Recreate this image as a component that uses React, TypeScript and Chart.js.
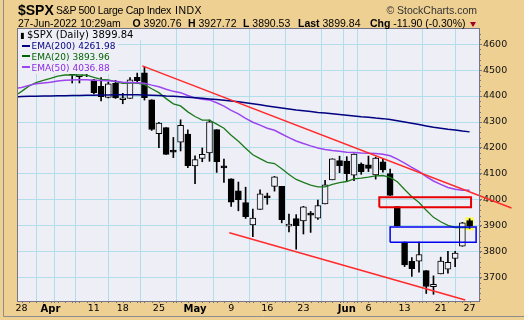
import React, { useEffect, useRef } from "react";
import { Chart, registerables } from "chart.js";

Chart.register(...registerables);

// ---- Data (index 0 = 25-Mar-2022, partly off the left edge) ----
const dates = [
  "03-25", "03-28", "03-29", "03-30", "03-31", "04-01", "04-04", "04-05", "04-06", "04-07", "04-08",
  "04-11", "04-12", "04-13", "04-14", "04-18", "04-19", "04-20", "04-21", "04-22",
  "04-25", "04-26", "04-27", "04-28", "04-29", "05-02", "05-03", "05-04", "05-05", "05-06",
  "05-09", "05-10", "05-11", "05-12", "05-13", "05-16", "05-17", "05-18", "05-19", "05-20",
  "05-23", "05-24", "05-25", "05-26", "05-27", "05-31", "06-01", "06-02", "06-03",
  "06-06", "06-07", "06-08", "06-09", "06-10", "06-13", "06-14", "06-15", "06-16", "06-17",
  "06-21", "06-22", "06-23", "06-24", "06-27",
];
const opens = [
  4522.7, 4541.1, 4602.9, 4624.2, 4599.0, 4540.3, 4548.0, 4572.5, 4494.2, 4474.7, 4494.2,
  4462.6, 4437.6, 4394.3, 4449.1, 4385.6, 4390.6, 4472.3, 4489.2, 4385.8,
  4255.3, 4278.1, 4186.5, 4222.6, 4253.8, 4130.6, 4159.8, 4181.2, 4270.4, 4128.2,
  4081.3, 4035.2, 3990.1, 3904.0, 3963.9, 4013.0, 4052.0, 4052.0, 3899.0, 3927.8,
  3919.4, 3942.9, 3929.6, 3984.6, 4077.4, 4151.1, 4149.8, 4095.4, 4137.6,
  4134.7, 4096.5, 4147.1, 4101.7, 3974.4, 3838.2, 3763.5, 3764.1, 3728.2, 3665.9,
  3715.3, 3733.9, 3774.7, 3821.8, 3920.8,
];
const highs = [
  4546.0, 4575.7, 4637.3, 4627.8, 4603.1, 4548.7, 4583.5, 4593.5, 4503.9, 4521.2, 4520.4,
  4464.4, 4471.0, 4453.9, 4460.5, 4410.3, 4471.0, 4488.3, 4512.9, 4385.8,
  4299.0, 4278.1, 4240.7, 4308.5, 4269.7, 4169.8, 4200.1, 4307.7, 4270.4, 4157.7,
  4081.3, 4068.8, 4049.1, 3964.8, 4038.9, 4026.2, 4090.7, 4052.0, 3946.0, 3943.4,
  3975.5, 3955.7, 3999.3, 4075.1, 4158.5, 4168.3, 4166.5, 4177.5, 4142.7,
  4168.8, 4164.9, 4160.1, 4119.1, 3974.4, 3838.2, 3778.2, 3837.6, 3728.2, 3707.7,
  3779.7, 3801.8, 3802.6, 3913.7, 3927.7,
];
const lows = [
  4501.1, 4517.7, 4581.5, 4581.3, 4530.4, 4507.6, 4539.2, 4514.2, 4450.0, 4450.3, 4474.6,
  4408.4, 4381.3, 4392.7, 4390.8, 4370.3, 4390.6, 4448.8, 4384.5, 4267.6,
  4200.8, 4175.0, 4162.9, 4188.6, 4124.3, 4062.5, 4147.1, 4148.9, 4106.0, 4067.9,
  3975.5, 3958.2, 3928.8, 3858.9, 3963.9, 3983.4, 4033.9, 3911.9, 3876.6, 3810.3,
  3868.9, 3875.1, 3925.0, 3984.6, 4077.4, 4104.9, 4073.9, 4074.4, 4098.7,
  4109.2, 4080.2, 4107.2, 4017.2, 3900.2, 3743.5, 3705.7, 3722.3, 3639.8, 3636.9,
  3715.3, 3717.7, 3743.5, 3821.8, 3890.5,
];
const closes = [
  4543.1, 4575.5, 4631.6, 4602.5, 4530.4, 4545.9, 4582.6, 4525.1, 4481.2, 4500.2, 4488.3,
  4412.5, 4397.5, 4446.6, 4392.6, 4391.7, 4462.2, 4459.5, 4393.7, 4271.8,
  4296.1, 4175.2, 4184.0, 4287.5, 4131.9, 4155.4, 4175.5, 4300.2, 4146.9, 4123.3,
  3991.2, 4001.1, 3935.2, 3930.1, 4023.9, 4008.0, 4088.9, 3923.7, 3900.8, 3901.4,
  3973.8, 3941.5, 3978.7, 4057.8, 4158.2, 4132.2, 4101.2, 4176.8, 4108.5,
  4121.4, 4160.7, 4115.8, 4017.8, 3900.9, 3749.6, 3735.5, 3790.0, 3666.8, 3674.8,
  3764.8, 3759.9, 3795.7, 3911.7, 3899.8,
];
const ema200 = [
  4397, 4398, 4399, 4399, 4400, 4400, 4401, 4401, 4402, 4402, 4403,
  4403, 4404, 4404, 4405, 4405, 4405, 4405, 4404, 4403,
  4402, 4400, 4399, 4397, 4395, 4393, 4391, 4389, 4387, 4384,
  4381, 4378, 4374, 4370, 4366, 4362, 4358, 4354, 4350, 4346,
  4343, 4340, 4337, 4335, 4332, 4329, 4326, 4323, 4320,
  4318, 4315, 4313, 4310, 4305, 4300, 4295, 4290, 4285, 4280,
  4276, 4272, 4269, 4265, 4262,
];
const ema20 = [
  4400, 4418, 4438, 4452, 4460, 4468, 4477, 4481, 4481, 4481, 4480,
  4472, 4464, 4462, 4455, 4449, 4450, 4450, 4444, 4428,
  4413, 4390, 4370, 4362, 4339, 4321, 4307, 4307, 4292, 4276,
  4249, 4226, 4199, 4174, 4159, 4145, 4140, 4120, 4098, 4079,
  4068, 4057, 4050, 4050, 4060, 4067, 4071, 4081, 4084,
  4088, 4093, 4094, 4087, 4070, 4040, 4012, 3990, 3960, 3933,
  3916, 3902, 3894, 3894, 3894,
];
const ema50 = [
  4428, 4433, 4441, 4447, 4450, 4453, 4458, 4461, 4462, 4463, 4463,
  4461, 4460, 4459, 4457, 4453, 4452, 4451, 4449, 4442,
  4436, 4426, 4418, 4413, 4402, 4393, 4388, 4385, 4374, 4361,
  4345, 4331, 4314, 4299, 4288, 4276, 4268, 4254, 4240, 4227,
  4217, 4208, 4200, 4194, 4190, 4187, 4184, 4183, 4181,
  4180, 4179, 4176, 4170, 4157, 4142, 4125, 4110, 4090, 4073,
  4060, 4048, 4041, 4037, 4037,
];

const yTicks = [3700, 3800, 3900, 4000, 4100, 4200, 4300, 4400, 4500, 4600];
const yMinorStep = 20;
const xGridIdx = [1, 5, 6, 11, 15, 20, 25, 30, 35, 40, 45, 46, 49, 54, 59, 63];
const xLabelIdx = [1, 5, 11, 15, 20, 25, 30, 35, 40, 46, 49, 54, 59, 63];
const xLabels = ["28", "Apr", "11", "18", "25", "May", "9", "16", "23", "Jun", "6", "13", "21", "27"];
const monthLabels = ["Apr", "May", "Jun"];

// annotations (index, price)
const upperTrendX = [17.7, 68.8];
const upperTrendY = [4516, 3969];
const lowerTrendX = [29.75, 62.4];
const lowerTrendY = [3874, 3615];
const redZoneX = [50.5, 63.2];
const redZoneY = [3972, 4010];
const blueZoneX = [52.0, 63.9];
const blueZoneY = [3837, 3896];

const PLOT_BG = "#EEEEF7";
const TAN = "#EFD093";
const GRID = "#B2DDEA";
const FRAME = "#75758A";

const rectPts = (xs: number[], ys: number[]) => [
  { x: xs[0], y: ys[0] },
  { x: xs[1], y: ys[0] },
  { x: xs[1], y: ys[1] },
  { x: xs[0], y: ys[1] },
  { x: xs[0], y: ys[0] },
];

const plotFrame = {
  id: "plotFrame",
  beforeDraw(chart: any) {
    const { ctx, chartArea: a } = chart;
    ctx.save();
    ctx.fillStyle = PLOT_BG;
    ctx.fillRect(a.left, a.top, a.right - a.left, a.bottom - a.top);
    ctx.restore();
  },
  afterDraw(chart: any) {
    const { ctx, chartArea: a, scales } = chart;
    ctx.save();
    ctx.strokeStyle = FRAME;
    ctx.lineWidth = 1;
    ctx.strokeRect(a.left - 0.5, a.top - 0.5, a.right - a.left + 1, a.bottom - a.top + 1);
    // minor ticks
    ctx.beginPath();
    const ys = scales.y;
    for (let v = Math.ceil(ys.min / yMinorStep) * yMinorStep; v <= ys.max; v += yMinorStep) {
      const py = Math.round(ys.getPixelForValue(v)) + 0.5;
      ctx.moveTo(a.right, py);
      ctx.lineTo(a.right + 2, py);
    }
    const xs = scales.x;
    for (let i = 0; i < dates.length; i++) {
      const px = Math.round(xs.getPixelForValue(i)) + 0.5;
      if (px < a.left) continue;
      ctx.moveTo(px, a.bottom);
      ctx.lineTo(px, a.bottom + 2);
    }
    ctx.stroke();
    ctx.strokeStyle = "#8C8C8C";
    ctx.beginPath();
    ctx.moveTo(3.5, 0);
    ctx.lineTo(3.5, 316.5);
    ctx.lineTo(524, 316.5);
    ctx.stroke();
    ctx.restore();
  },
};

export default function App() {
  const ref = useRef<HTMLCanvasElement | null>(null);

  useEffect(() => {
    document.body.style.margin = "0";
    const canvas = ref.current;
    if (!canvas) return;
    const idx = dates.map((_, i) => i);
    const chart = new Chart(canvas, {
      type: "bar",
      data: {
        datasets: [
          {
            type: "line",
            label: "upper",
            data: upperTrendX.map((x, i) => ({ x, y: upperTrendY[i] })),
            borderColor: "#FF2A2A",
            borderWidth: 1.5,
            pointRadius: 0,
            clip: false,
            order: 1,
          } as any,
          {
            type: "line",
            label: "lower",
            data: lowerTrendX.map((x, i) => ({ x, y: lowerTrendY[i] })),
            borderColor: "#FF2A2A",
            borderWidth: 1.5,
            pointRadius: 0,
            order: 1,
          },
          {
            type: "line",
            label: "redzone",
            data: rectPts(redZoneX, redZoneY),
            borderColor: "#E80000",
            borderWidth: 2,
            pointRadius: 0,
            order: 1,
          },
          {
            type: "line",
            label: "bluezone",
            data: rectPts(blueZoneX, blueZoneY),
            borderColor: "#0000F0",
            borderWidth: 1.5,
            pointRadius: 0,
            order: 1,
          },
          {
            type: "line",
            label: "EMA(200)",
            data: idx.map((i) => ({ x: i, y: ema200[i] })),
            borderColor: "#000080",
            borderWidth: 1.5,
            pointRadius: 0,
            order: 2,
          },
          {
            type: "line",
            label: "EMA(50)",
            data: idx.map((i) => ({ x: i, y: ema50[i] })),
            borderColor: "#9B45EE",
            borderWidth: 1.5,
            pointRadius: 0,
            order: 2,
          },
          {
            type: "line",
            label: "EMA(20)",
            data: idx.map((i) => ({ x: i, y: ema20[i] })),
            borderColor: "#1C7A1C",
            borderWidth: 1.3,
            pointRadius: 0,
            order: 2,
          },
          {
            type: "bar",
            label: "bodies",
            data: idx.map((i) => ({ x: i, y: [opens[i], closes[i]] })),
            backgroundColor: idx.map((i) => (closes[i] >= opens[i] ? PLOT_BG : "#000000")),
            borderColor: "#000000",
            borderWidth: 1,
            borderSkipped: false,
            barThickness: 6,
            minBarLength: 2,
            grouped: false,
            order: 3,
          } as any,
          {
            type: "bar",
            label: "wicks",
            data: idx.map((i) => ({ x: i, y: [lows[i], highs[i]] })),
            backgroundColor: "#000000",
            borderWidth: 0,
            barThickness: 1,
            grouped: false,
            order: 4,
          } as any,
          {
            type: "bar",
            label: "highlight",
            data: [{ x: dates.length - 1, y: [3884, 3932] }],
            backgroundColor: "#FFFF55",
            borderWidth: 0,
            barThickness: 8,
            grouped: false,
            order: 5,
          } as any,
        ],
      },
      options: {
        animation: false,
        responsive: false,
        devicePixelRatio: 1,
        layout: { padding: { left: 18, top: 29, right: 0, bottom: 0 } },
        plugins: { legend: { display: false }, tooltip: { enabled: false } },
        scales: {
          x: {
            type: "linear",
            position: "bottom",
            min: 0.5,
            max: 64.3,
            offset: false,
            afterBuildTicks: (s: any) => {
              s.ticks = xGridIdx.map((v) => ({ value: v }));
            },
            afterFit: (s: any) => {
              s.height = 19;
            },
            ticks: {
              autoSkip: false,
              maxRotation: 0,
              padding: 0,
              color: "#000000",
              font: (c: any) => {
                const k = xLabelIdx.indexOf(c.tick?.value);
                const bold = k >= 0 && monthLabels.includes(xLabels[k]);
                return { family: "'DejaVu Sans', sans-serif", size: bold ? 10 : 9.5, weight: bold ? "bold" : "normal" };
              },
              callback: (v: any) => {
                const k = xLabelIdx.indexOf(v);
                return k >= 0 ? xLabels[k] : "";
              },
            },
            grid: { color: GRID, tickLength: 2, tickColor: FRAME, lineWidth: 1 },
            border: { color: FRAME },
          },
          y: {
            type: "linear",
            position: "right",
            min: 3611,
            max: 4658,
            afterBuildTicks: (s: any) => {
              s.ticks = yTicks.map((v) => ({ value: v }));
            },
            afterFit: (s: any) => {
              s.width = 45;
            },
            ticks: {
              padding: 1,
              color: "#111111",
              font: { family: "'DejaVu Sans', sans-serif", size: 9.5 },
              callback: (v: any) => String(v),
            },
            grid: { color: GRID, tickLength: 3, tickColor: FRAME },
            border: { color: FRAME },
          },
        },
      },
      plugins: [plotFrame],
    } as any);
    return () => chart.destroy();
  }, []);

  const hdr: React.CSSProperties = {
    position: "absolute",
    whiteSpace: "nowrap",
    lineHeight: 1,
    fontFamily: "'Liberation Sans', Arial, sans-serif",
    color: "#000",
  };
  const dv: React.CSSProperties = {
    position: "absolute",
    whiteSpace: "nowrap",
    lineHeight: 1,
    fontFamily: "'DejaVu Sans', sans-serif",
  };
  const L2 = 17.8;
  const f2 = 10.5;
  const dash = (c: string): React.CSSProperties => ({
    display: "inline-block",
    width: 8,
    height: 2,
    background: c,
    verticalAlign: "middle",
    marginRight: 2,
    position: "relative",
    top: -1,
  });
  return (
    <div style={{ position: "relative", width: 524, height: 320, background: TAN, overflow: "hidden" }}>
      <canvas ref={ref} width={524} height={320} style={{ position: "absolute", left: 0, top: 0 }} />
      {/* header line 1 */}
      <div style={{ ...hdr, left: 18, top: 3.2, fontSize: 14, fontWeight: "bold" }}>$SPX</div>
      <div style={{ ...hdr, left: 56, top: 5.3, fontSize: 10.5, letterSpacing: -0.3 }}>S&amp;P 500 Large Cap Index</div>
      <div style={{ ...hdr, left: 175, top: 5.3, fontSize: 10.5, letterSpacing: 0.5 }}>INDX</div>
      <div style={{ ...hdr, right: 47, top: 5, fontSize: 10.5, color: "#333" }}>© StockCharts.com</div>
      {/* header line 2 */}
      <div style={{ ...hdr, left: 18, top: L2, fontSize: f2 }}>27-Jun-2022 10:29am</div>
      <div style={{ ...hdr, left: 132.5, top: L2, fontSize: f2 }}><b>O</b> 3920.76</div>
      <div style={{ ...hdr, left: 188, top: L2, fontSize: f2 }}><b>H</b> 3927.72</div>
      <div style={{ ...hdr, left: 243, top: L2, fontSize: f2 }}><b>L</b> 3890.53</div>
      <div style={{ ...hdr, left: 298, top: L2, fontSize: f2 }}><b>Last</b> 3899.84</div>
      <div style={{ ...hdr, left: 370, top: L2, fontSize: f2 }}><b>Chg</b> -11.90 (-0.30%)</div>
      <div
        style={{
          position: "absolute",
          left: 470,
          top: 22,
          width: 0,
          height: 0,
          borderLeft: "3.5px solid transparent",
          borderRight: "3.5px solid transparent",
          borderTop: "5px solid #A0002A",
        }}
      />
      {/* legend */}
      <div style={{ position: "absolute", left: 18, top: 29, width: 132, height: 11, background: PLOT_BG }} />
      <div style={{ position: "absolute", left: 18, top: 40, width: 100, height: 34, background: PLOT_BG }} />
      <div style={{ ...dv, left: 20, top: 29.8, fontSize: 10, color: "#000" }}>
        <span style={{ display: "inline-block", width: 5, marginRight: 2, fontSize: 8 }}>▮</span>
        $SPX (Daily) 3899.84
      </div>
      <div style={{ ...dv, left: 21.5, top: 42.4, fontSize: 9, color: "#000080" }}>
        <span style={dash("#000080")} />
        EMA(200) 4261.98
      </div>
      <div style={{ ...dv, left: 21.5, top: 52.9, fontSize: 9, color: "#006400" }}>
        <span style={dash("#006400")} />
        EMA(20) 3893.96
      </div>
      <div style={{ ...dv, left: 21.5, top: 63.9, fontSize: 9, color: "#8A2BE2" }}>
        <span style={dash("#9B45EE")} />
        EMA(50) 4036.88
      </div>
    </div>
  );
}
